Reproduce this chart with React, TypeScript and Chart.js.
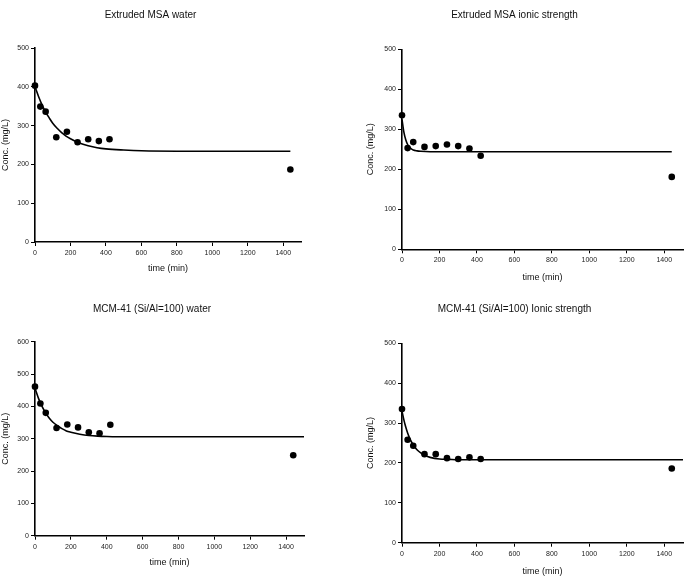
import React, { useEffect, useRef } from 'react';
import { Chart, registerables } from 'chart.js';
Chart.register(...registerables);

// sampling times (min)
const TIMES = [0, 30, 60, 120, 180, 240, 300, 360, 420, 1440];
const X_TICK_STEP = 200;
const X_MAX = 1500;

// measured concentrations (mg/L)
const MSA_WATER = [403, 349, 336, 270, 284, 257, 265, 260, 265, 187];
const MSA_IONIC = [335, 253, 268, 256, 258, 262, 258, 252, 234, 181];
const MCM_WATER = [461, 409, 380, 333, 344, 335, 320, 317, 343, 249];
const MCM_IONIC = [335, 258, 243, 222, 222, 212, 210, 214, 210, 186];

// fitted curves
const FIT1_T = [0, 20, 40, 60, 80, 100, 125, 150, 175, 200, 250, 300, 350, 400, 500, 600, 800, 1000, 1200, 1440];
const FIT1_Y = [400, 375, 353, 335, 320, 306, 293, 282, 273, 266, 255, 248, 243, 240, 237, 235, 234, 234, 234, 234];

const FIT2_T = [0, 10, 20, 30, 40, 50, 60, 80, 100, 150, 300, 600, 1000, 1440];
const FIT2_Y = [325, 293, 274, 262, 255, 251, 248, 246, 245, 244, 244, 244, 244, 244];

const FIT3_T = [0, 20, 40, 60, 80, 100, 125, 150, 175, 200, 250, 300, 350, 400, 500, 600, 800, 1000, 1200, 1500];
const FIT3_Y = [456, 424, 399, 379, 363, 351, 340, 331, 324, 320, 314, 310, 308, 307, 306, 306, 306, 306, 306, 306];

const FIT4_T = [0, 10, 20, 30, 40, 60, 80, 100, 125, 150, 200, 250, 300, 400, 600, 1000, 1500];
const FIT4_Y = [330, 308, 290, 275, 263, 245, 233, 225, 218, 214, 210, 209, 208, 208, 208, 208, 208];

const TITLES = [
  'Extruded MSA water',
  'Extruded MSA ionic strength',
  'MCM-41 (Si/Al=100) water',
  'MCM-41 (Si/Al=100) Ionic strength',
];
const X_LABEL = 'time (min)';
const Y_LABEL = 'Conc. (mg/L)';
const Y_MAXES = [500, 500, 600, 500];
const Y_STEP = 100;

const FONT = 'Arial, "Liberation Sans", sans-serif';

type Layout = {
  left: number; top: number; width: number; height: number;
  titleTop: number; titleBottom: number;
  yWidth: number; yTitlePad: number;
  xHeight: number; padRight: number; padBottom: number;
};

const LAYOUTS: Layout[] = [
  { left: 0, top: 0, width: 342, height: 290, titleTop: 9, titleBottom: 27, yWidth: 35, yTitlePad: 0, xHeight: 32.4, padRight: 41, padBottom: 15.6 },
  { left: 342, top: 0, width: 345, height: 290, titleTop: 9, titleBottom: 28.3, yWidth: 60, yTitlePad: 23.6, xHeight: 33.8, padRight: 0, padBottom: 6.9 },
  { left: 0, top: 290, width: 342, height: 297, titleTop: 13, titleBottom: 26.7, yWidth: 35, yTitlePad: 0, xHeight: 32.7, padRight: 38, padBottom: 18.6 },
  { left: 342, top: 290, width: 345, height: 297, titleTop: 13, titleBottom: 28.3, yWidth: 60, yTitlePad: 23.6, xHeight: 34.4, padRight: 0, padBottom: 9.9 },
];

const POINTS = [MSA_WATER, MSA_IONIC, MCM_WATER, MCM_IONIC];
const FITS: [number[], number[]][] = [
  [FIT1_T, FIT1_Y], [FIT2_T, FIT2_Y], [FIT3_T, FIT3_Y], [FIT4_T, FIT4_Y],
];

function Panel({ idx }: { idx: number }) {
  const ref = useRef<HTMLCanvasElement | null>(null);
  const L = LAYOUTS[idx];
  useEffect(() => {
    if (!ref.current) return;
    const [ft, fy] = FITS[idx];
    const chart = new Chart(ref.current, {
      type: 'scatter',
      data: {
        datasets: [
          {
            type: 'line',
            data: ft.map((t, i) => ({ x: t, y: fy[i] })),
            borderColor: '#000',
            borderWidth: 1.6,
            pointRadius: 0,
            cubicInterpolationMode: 'monotone',
            fill: false,
            clip: false,
          } as any,
          {
            type: 'scatter',
            data: TIMES.map((t, i) => ({ x: t, y: POINTS[idx][i] })),
            backgroundColor: '#000',
            borderColor: '#000',
            pointRadius: 3.3,
            borderWidth: 0,
            clip: false,
          } as any,
        ],
      },
      options: {
        animation: false,
        responsive: false,
        devicePixelRatio: 1,
        layout: { padding: { left: 0, top: 0, right: L.padRight, bottom: L.padBottom } },
        plugins: {
          legend: { display: false },
          tooltip: { enabled: false },
          title: {
            display: true,
            text: TITLES[idx],
            color: '#111',
            font: { family: FONT, size: 10, weight: 'normal' },
            padding: { top: L.titleTop, bottom: L.titleBottom },
          },
        },
        scales: {
          x: {
            type: 'linear',
            min: 0,
            max: X_MAX,
            afterFit: (s: any) => { s.height = L.xHeight; },
            ticks: {
              stepSize: X_TICK_STEP,
              includeBounds: false,
              color: '#222',
              font: { family: FONT, size: 7 },
              padding: 3,
              maxRotation: 0,
              callback: (v: any) => String(v),
            },
            grid: { drawOnChartArea: false, drawTicks: true, tickLength: 4, color: '#000', lineWidth: 1 },
            border: { display: true, color: '#000', width: 1.6 },
            title: {
              display: true,
              text: X_LABEL,
              color: '#111',
              font: { family: FONT, size: 9 },
              padding: { top: 0, bottom: 0 },
            },
          },
          y: {
            type: 'linear',
            min: 0,
            max: Y_MAXES[idx],
            afterFit: (s: any) => { s.width = L.yWidth; },
            ticks: {
              stepSize: Y_STEP,
              color: '#222',
              font: { family: FONT, size: 7 },
              padding: 2,
              callback: (v: any) => String(v),
            },
            grid: { drawOnChartArea: false, drawTicks: true, tickLength: 4, color: '#000', lineWidth: 1 },
            border: { display: true, color: '#000', width: 1.6 },
            title: {
              display: true,
              text: Y_LABEL,
              color: '#111',
              font: { family: FONT, size: 9 },
              padding: { top: L.yTitlePad, bottom: 0 },
            },
          },
        },
      },
    });
    return () => chart.destroy();
  }, [idx]);
  return (
    <canvas
      ref={ref}
      width={L.width}
      height={L.height}
      style={{ position: 'absolute', left: L.left, top: L.top, width: L.width, height: L.height }}
    />
  );
}

export default function App() {
  return (
    <div style={{ position: 'absolute', left: 0, top: 0, width: 684, height: 587, overflow: 'hidden', background: '#fff' }}>
      {[0, 1, 2, 3].map((i) => <Panel key={i} idx={i} />)}
    </div>
  );
}
